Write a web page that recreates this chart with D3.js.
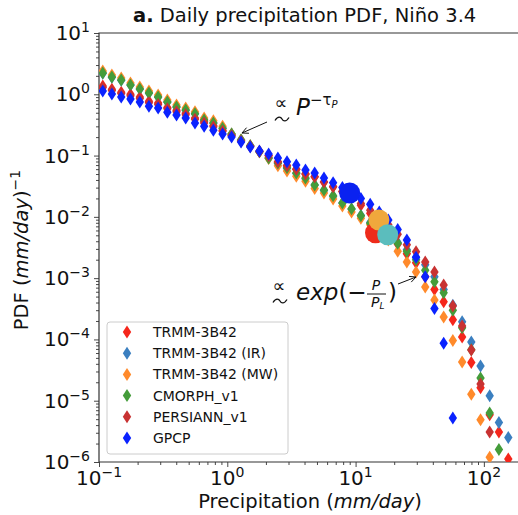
<!DOCTYPE html>
<html><head><meta charset="utf-8">
<script src="https://cdn.jsdelivr.net/npm/d3@7"></script>
<style>body{margin:0;background:#fff} text{font-family:"DejaVu Sans",sans-serif;fill:#111}</style>
</head><body><svg id="c" width="518" height="515"></svg>
<script>
// ---- data ----
const bins = [0.107,0.126,0.149,0.176,0.208,0.245,0.289,0.341,0.402,0.474,0.560,0.660,0.779,0.919,1.08,1.28,1.51,1.78,2.10,2.48,2.92,3.45,4.07,4.80,5.67,6.68,7.89,9.30,11.0,13.0,15.3,18.0,21.3,25.1,29.6,34.9,41.2,48.6,57.3,67.7,79.8,94.2,111,131,155];
const trmm = [1.36,1.21,1.08,1.00,0.90,0.77,0.72,0.61,0.55,0.49,0.41,0.36,0.31,0.26,0.215,0.175,0.142,0.118,0.100,0.078,0.068,0.060,0.050,0.045,0.037,0.031,0.026,0.0205,0.0155,0.0115,0.0080,0.0054,0.0036,0.0025,0.00178,0.00105,0.00065,0.00041,0.00021,0.00011,0.000042,0.0000162,0.0000059,0.0000031,0.00000112];
const trmmIR = [2.2,1.9,1.7,1.42,1.22,1.05,0.90,0.75,0.62,0.55,0.48,0.38,0.34,0.28,0.225,0.18,0.144,0.115,0.091,0.075,0.062,0.051,0.042,0.033,0.027,0.0215,0.0168,0.0133,0.0105,0.0081,0.0063,0.0050,0.0038,0.0029,0.0022,0.00166,0.00105,0.00065,0.00036,0.000195,0.000091,0.000037,0.000012,0.0000044,0.0000025];
const trmmMW = [2.4,2.06,1.85,1.53,1.32,1.13,0.97,0.81,0.67,0.60,0.52,0.41,0.37,0.30,0.225,0.18,0.144,0.115,0.09,0.068,0.056,0.046,0.038,0.029,0.0245,0.0196,0.015,0.012,0.0095,0.0074,0.0058,0.0042,0.00275,0.00184,0.00126,0.00072,0.00044,0.000233,0.000096,0.000043,0.0000128,0.0000049,0.0000012,null,null];
const cmorph = [2.22,1.91,1.71,1.42,1.22,1.05,0.90,0.75,0.62,0.555,0.48,0.38,0.34,0.28,0.225,0.18,0.144,0.115,0.091,0.076,0.063,0.052,0.043,0.033,0.0275,0.022,0.0169,0.0135,0.0104,0.0079,0.0062,0.0049,0.0037,0.00275,0.0020,0.00135,0.00087,0.00058,0.0003,0.000155,0.000068,0.0000234,0.0000063,0.0000016,null];
const persiann = [1.29,1.15,1.03,0.95,0.85,0.73,0.68,0.58,0.52,0.465,0.39,0.34,0.295,0.25,0.21,0.172,0.14,0.117,0.099,0.079,0.068,0.060,0.050,0.045,0.037,0.031,0.026,0.021,0.0165,0.0128,0.0098,0.0074,0.0052,0.0035,0.0027,0.00184,0.00126,0.00077,0.00035,0.000166,0.000067,0.0000188,0.0000031,null,null];
const gpcp = [1.13,1.01,0.90,0.84,0.75,0.64,0.60,0.51,0.46,0.41,0.34,0.30,0.26,0.225,0.20,0.167,0.138,0.119,0.106,0.091,0.079,0.070,0.058,0.052,0.043,0.036,0.030,0.0245,0.020,0.016,0.012,0.0089,0.0062,0.0042,0.0022,0.00105,0.00032,0.000087,0.0000052,null,null,null,null,null,null];
const seriesNames = ["TRMM-3B42","TRMM-3B42 (IR)","TRMM-3B42 (MW)","CMORPH_v1","PERSIANN_v1","GPCP"];
const seriesColors = ["#f5261b","#3b7fc0","#ff8a2b","#449c3a","#c83232","#0a22ff"];
const seriesValues = [trmm,trmmIR,trmmMW,cmorph,persiann,gpcp];
// cutoff markers P_L
const cutoffP = [14.3,15.2,17.8,9.0];
const cutoffPDF = [0.0055,0.0089,0.0051,0.0245];
const cutoffColors = ["#ee2b1b","#f0a83c","#5bbdbd","#0a22f0"];
const xMajor = [0.1,1,10,100];
const xExp = ["−1","0","1","2"];
const yMajor = [1e1,1e0,1e-1,1e-2,1e-3,1e-4,1e-5,1e-6];
const yExp = ["1","0","−1","−2","−3","−4","−5","−6"];

// ---- layout ----
const svg = d3.select("#c");
const L=99, R=518, T=33, B=462;
const x = d3.scaleLog().domain([0.1, 184.5]).range([L, R]);
const y = d3.scaleLog().domain([1e-6, 10]).range([B, T]);

svg.append("defs").append("clipPath").attr("id","clip")
  .append("rect").attr("x",L).attr("y",T).attr("width",R-L).attr("height",B-T);

function minors(lo, hi){ const out=[]; for(let e=lo;e<hi;e++) for(let k=2;k<10;k++) out.push(k*Math.pow(10,e)); return out; }

// axes ticks
const gx = svg.append("g").attr("transform",`translate(0,${B})`);
gx.call(d3.axisBottom(x).tickValues(xMajor).tickSize(5).tickFormat(""));
gx.append("g").call(d3.axisBottom(x).tickValues(minors(-1,3).filter(v=>v<184)).tickSize(3).tickFormat(""));
const gy = svg.append("g").attr("transform",`translate(${L},0)`);
gy.call(d3.axisLeft(y).tickValues(yMajor).tickSize(5).tickFormat(""));
gy.append("g").call(d3.axisLeft(y).tickValues(minors(-6,1)).tickSize(3).tickFormat(""));
svg.selectAll(".domain").remove();
svg.selectAll(".tick line").attr("stroke","#333").attr("stroke-width",0.9);

// spines
svg.append("path").attr("d",`M${R},${T}H${L}V${B}H${R}`).attr("fill","none").attr("stroke","#333").attr("stroke-width",1.2);

// tick labels
xMajor.forEach((v,i)=>{
  const t = svg.append("text").attr("x",x(v)).attr("y",B+23).attr("text-anchor","middle").style("font-size","20px");
  t.append("tspan").text("10");
  t.append("tspan").attr("dy",-8).style("font-size","14px").text(xExp[i]);
});
yMajor.forEach((v,i)=>{
  const t = svg.append("text").attr("x",90).attr("y",y(v)+7).attr("text-anchor","end").style("font-size","20px");
  t.append("tspan").text("10");
  t.append("tspan").attr("dy",-8).style("font-size","14px").text(yExp[i]);
});

// axis labels
const xl = svg.append("text").attr("x",310).attr("y",508).attr("text-anchor","middle").style("font-size","19.5px");
xl.append("tspan").text("Precipitation (");
xl.append("tspan").style("font-style","italic").text("mm/day");
xl.append("tspan").text(")");
const yl = svg.append("text").attr("transform","translate(28,250) rotate(-90)").attr("text-anchor","middle").style("font-size","19.5px");
yl.append("tspan").text("PDF (");
yl.append("tspan").style("font-style","italic").text("mm/day");
yl.append("tspan").text(")");
yl.append("tspan").attr("dy",-8).style("font-size","14px").text("−1");

// title
const tt = svg.append("text").attr("x",133).attr("y",22).style("font-size","19.5px");
tt.append("tspan").style("font-weight","bold").text("a.");
tt.append("tspan").text(" Daily precipitation PDF, Niño 3.4");

// markers
const diamond = "M0,-6.5L4.2,0L0,6.5L-4.2,0Z";
const plot = svg.append("g").attr("clip-path","url(#clip)");
seriesValues.forEach((vals,si)=>{
  plot.append("g").selectAll("path")
    .data(vals.map((v,i)=>({p:bins[i],v})).filter(d=>d.v!=null))
    .join("path")
    .attr("d",diamond)
    .attr("transform",d=>`translate(${x(d.p)},${y(d.v)})`)
    .attr("fill",seriesColors[si]);
});
// cutoff circles
plot.append("g").selectAll("circle").data(cutoffP.map((p,i)=>({p,v:cutoffPDF[i],c:cutoffColors[i]})))
  .join("circle").attr("cx",d=>x(d.p)).attr("cy",d=>y(d.v)).attr("r",10.5).attr("fill",d=>d.c);

// annotations
const ann = svg.append("g");
function arrow(x1,y1,x2,y2){
  ann.append("line").attr("x1",x1).attr("y1",y1).attr("x2",x2).attr("y2",y2).attr("stroke","#111").attr("stroke-width",1);
  const a=Math.atan2(y2-y1,x2-x1), h=7, w=0.45;
  ann.append("path").attr("d",`M${x2-h*Math.cos(a-w)},${y2-h*Math.sin(a-w)}L${x2},${y2}L${x2-h*Math.cos(a+w)},${y2-h*Math.sin(a+w)}`)
    .attr("fill","none").attr("stroke","#111").attr("stroke-width",1);
}
function tilde(cx,cy){
  ann.append("path").attr("d",`M${cx-7},${cy+1.5}C${cx-4},${cy-3.5} ${cx-1},${cy-2} ${cx},${cy}S${cx+4},${cy+3.5} ${cx+7},${cy-1.5}`)
    .attr("fill","none").attr("stroke","#111").attr("stroke-width",1.3);
}
arrow(267,122,242,133);
ann.append("text").attr("x",281).attr("y",109).attr("text-anchor","middle").style("font-size","18px").text("∝");
tilde(282,119);
const pw = ann.append("text").attr("x",296).attr("y",115).style("font-size","23px");
pw.append("tspan").style("font-style","italic").text("P");
pw.append("tspan").attr("dy",-10).style("font-size","15px").text("−τ");
pw.append("tspan").attr("dy",3).style("font-size","10px").style("font-style","italic").text("P");

arrow(398,284,416,277);
ann.append("text").attr("x",279).attr("y",292).attr("text-anchor","middle").style("font-size","18px").text("∝");
tilde(280,301);
const ex = ann.append("text").attr("x",296).attr("y",300).style("font-size","23px");
ex.append("tspan").style("font-style","italic").text("exp");
ex.append("tspan").text("(−");
ann.append("text").attr("x",376).attr("y",290).attr("text-anchor","middle").style("font-size","14px").style("font-style","italic").text("P");
ann.append("line").attr("x1",367).attr("x2",386).attr("y1",294).attr("y2",294).attr("stroke","#111").attr("stroke-width",1);
const pl = ann.append("text").attr("x",371).attr("y",307).style("font-size","14px");
pl.append("tspan").style("font-style","italic").text("P");
pl.append("tspan").attr("dy",2).style("font-size","9px").style("font-style","italic").text("L");
ann.append("text").attr("x",388).attr("y",300).style("font-size","23px").text(")");

// legend
const lg = svg.append("g");
lg.append("rect").attr("x",107).attr("y",322).attr("width",181).attr("height",132).attr("rx",3)
  .attr("fill","#fff").attr("fill-opacity",0.85).attr("stroke","#ccc");
seriesNames.forEach((n,i)=>{
  const yy = 332 + i*21.2;
  lg.append("path").attr("d",diamond).attr("transform",`translate(127,${yy})`).attr("fill",seriesColors[i]);
  lg.append("text").attr("x",153).attr("y",yy+5).style("font-size","14px").text(n);
});
</script></body></html>
